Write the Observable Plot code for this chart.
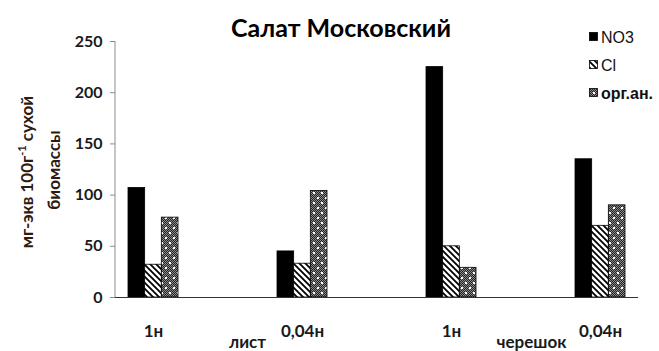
<!DOCTYPE html>
<html>
<head>
<meta charset="utf-8">
<script src="https://cdn.jsdelivr.net/npm/d3@7"></script>
<script src="https://cdn.jsdelivr.net/npm/@observablehq/plot@0.6"></script>
<style>
  html, body { margin: 0; padding: 0; background: #fff; }
  #chart svg { display: block; }
</style>
</head>
<body>
<div id="chart"></div>
<script>
// Anion content of lettuce "Московский": leaf and petiole, two solution strengths
const concentrations = ["1н", "0,04н", "1н", "0,04н"];
const organs = ["лист", "лист", "черешок", "черешок"];
const no3 = [107, 45, 225, 135];
const cl = [32, 33, 50, 70];
const organic = [78, 104, 29, 90];
const seriesNames = ["NO3", "Cl", "орг.ан."];
const yTicks = [0, 50, 100, 150, 200, 250];
const organLabels = ["лист", "черешок"];
const titleText = "Салат Московский";

const W = 659, H = 351;
const margin = {top: 41, right: 21, bottom: 54, left: 115};
const FONT = "Lato, 'Open Sans', 'DejaVu Sans', sans-serif";
const INK = "#1a1a1a";

const keys = concentrations.map((c, i) => `${c} ${organs[i]}`);
const seriesValues = [no3, cl, organic];
const seriesFills = ["#000", "url(#hatch)", "url(#dots)"];
const rows = seriesNames.flatMap((name, j) =>
  keys.map((key, i) => ({key, series: name, value: seriesValues[j][i]})));

// band geometry shared by the x scale and the per-series insets
const padInner = 2 / 3, padOuter = 0.077;
const xBand = d3.scaleBand(keys, [margin.left, W - margin.right])
  .paddingInner(padInner).paddingOuter(padOuter);
const barW = xBand.bandwidth() / seriesNames.length;

const chart = Plot.plot({
  width: W,
  height: H,
  marginTop: margin.top,
  marginRight: margin.right,
  marginBottom: margin.bottom,
  marginLeft: margin.left,
  style: {fontFamily: FONT, background: "#fff", overflow: "visible"},
  x: {domain: keys, range: [margin.left, W - margin.right], paddingInner: padInner, paddingOuter: padOuter, axis: null},
  y: {domain: [0, 250], axis: null},
  marks: [
    ...seriesNames.map((name, j) =>
      Plot.barY(rows.filter(d => d.series === name), {
        x: "key", y: "value",
        fill: seriesFills[j], stroke: "#000", strokeWidth: 0.8,
        insetLeft: j * barW, insetRight: (seriesNames.length - 1 - j) * barW
      })),
    Plot.ruleY([0], {stroke: "#333", strokeWidth: 1.2}),
    Plot.axisY({ticks: yTicks, tickSize: 5, tickPadding: 8, stroke: "#8c8c8c", label: null,
      fontSize: 16, fontWeight: "bold", fill: INK, tickFormat: d => d}),
    Plot.axisX({tickSize: 0, tickPadding: 27, fontSize: 17, fontWeight: "bold", fill: INK, label: null,
      tickFormat: k => k.split(" ")[0]}),
    Plot.text([organLabels[0]], {x: () => keys[0], frameAnchor: "bottom", dy: 50, dx: 94,
      fontSize: 17, fontWeight: "bold", fill: INK, text: d => d}),
    Plot.text([organLabels[1]], {x: () => keys[2], frameAnchor: "bottom", dy: 50, dx: 80,
      fontSize: 17, fontWeight: "bold", fill: INK, text: d => d})
  ]
});

const svg = d3.select(chart);

// fill patterns for the Cl and organic-anion bars
const defs = svg.insert("defs", ":first-child");
const hatch = defs.append("pattern").attr("id", "hatch")
  .attr("patternUnits", "userSpaceOnUse").attr("width", 6).attr("height", 6);
hatch.append("rect").attr("width", 6).attr("height", 6).attr("fill", "#fff");
hatch.append("path").attr("d", "M-1,-1L7,7M-1,5L1,7M5,-1L7,1")
  .attr("stroke", "#000").attr("stroke-width", 1.8);

// fine checker of dark and mid grey with sparse white dots
const dots = defs.append("pattern").attr("id", "dots")
  .attr("patternUnits", "userSpaceOnUse").attr("width", 8).attr("height", 10);
dots.append("rect").attr("width", 8).attr("height", 10).attr("fill", "#242424");
for (let x = 0; x < 8; x++) for (let y = 0; y < 10; y++) {
  if ((x + y) % 2 === 0) {
    dots.append("rect").attr("x", x).attr("y", y).attr("width", 1).attr("height", 1).attr("fill", "#8a8a8a");
  }
}
dots.append("rect").attr("x", 1).attr("y", 2).attr("width", 2).attr("height", 2).attr("fill", "#fff");
dots.append("rect").attr("x", 5).attr("y", 7).attr("width", 2).attr("height", 2).attr("fill", "#fff");

// vertical axis line
const [y0, y1] = chart.scale("y").range;
svg.append("line").attr("x1", margin.left).attr("x2", margin.left)
  .attr("y1", y0).attr("y2", y1).attr("stroke", "#8c8c8c");

// title
svg.append("text").attr("x", 341).attr("y", 37).attr("text-anchor", "middle")
  .attr("font-family", FONT).attr("font-size", 25).attr("font-weight", "bold")
  .attr("fill", "#000").text(titleText);

// y-axis title, two rotated lines
const yTitle = svg.append("g").attr("font-family", FONT).attr("font-size", 17)
  .attr("font-weight", "bold").attr("fill", "#2e1a10").attr("text-anchor", "middle");
const line1 = yTitle.append("text").attr("transform", "translate(33,172) rotate(-90)");
line1.append("tspan").text("мг-экв 100г");
line1.append("tspan").attr("font-size", 11).attr("dy", -7).text("-1");
line1.append("tspan").attr("dy", 7).text(" сухой");
yTitle.append("text").attr("transform", "translate(60,170) rotate(-90)").text("биомассы");

// legend
const legend = svg.append("g").attr("font-family", "'Liberation Sans', Arial, sans-serif")
  .attr("font-size", 16).attr("fill", "#111").attr("text-anchor", "start");
seriesNames.forEach((name, j) => {
  const cy = 37 + j * 28;
  legend.append("rect").attr("x", 589.5).attr("y", cy - 4.5).attr("width", 8).attr("height", 8)
    .attr("fill", seriesFills[j]).attr("stroke", "#000").attr("stroke-width", 0.8);
  legend.append("text").attr("x", 601).attr("y", cy).attr("dy", "0.36em")
    .attr("font-weight", j === 2 ? "bold" : "normal").text(name);
});

document.getElementById("chart").appendChild(chart);
</script>
</body>
</html>
